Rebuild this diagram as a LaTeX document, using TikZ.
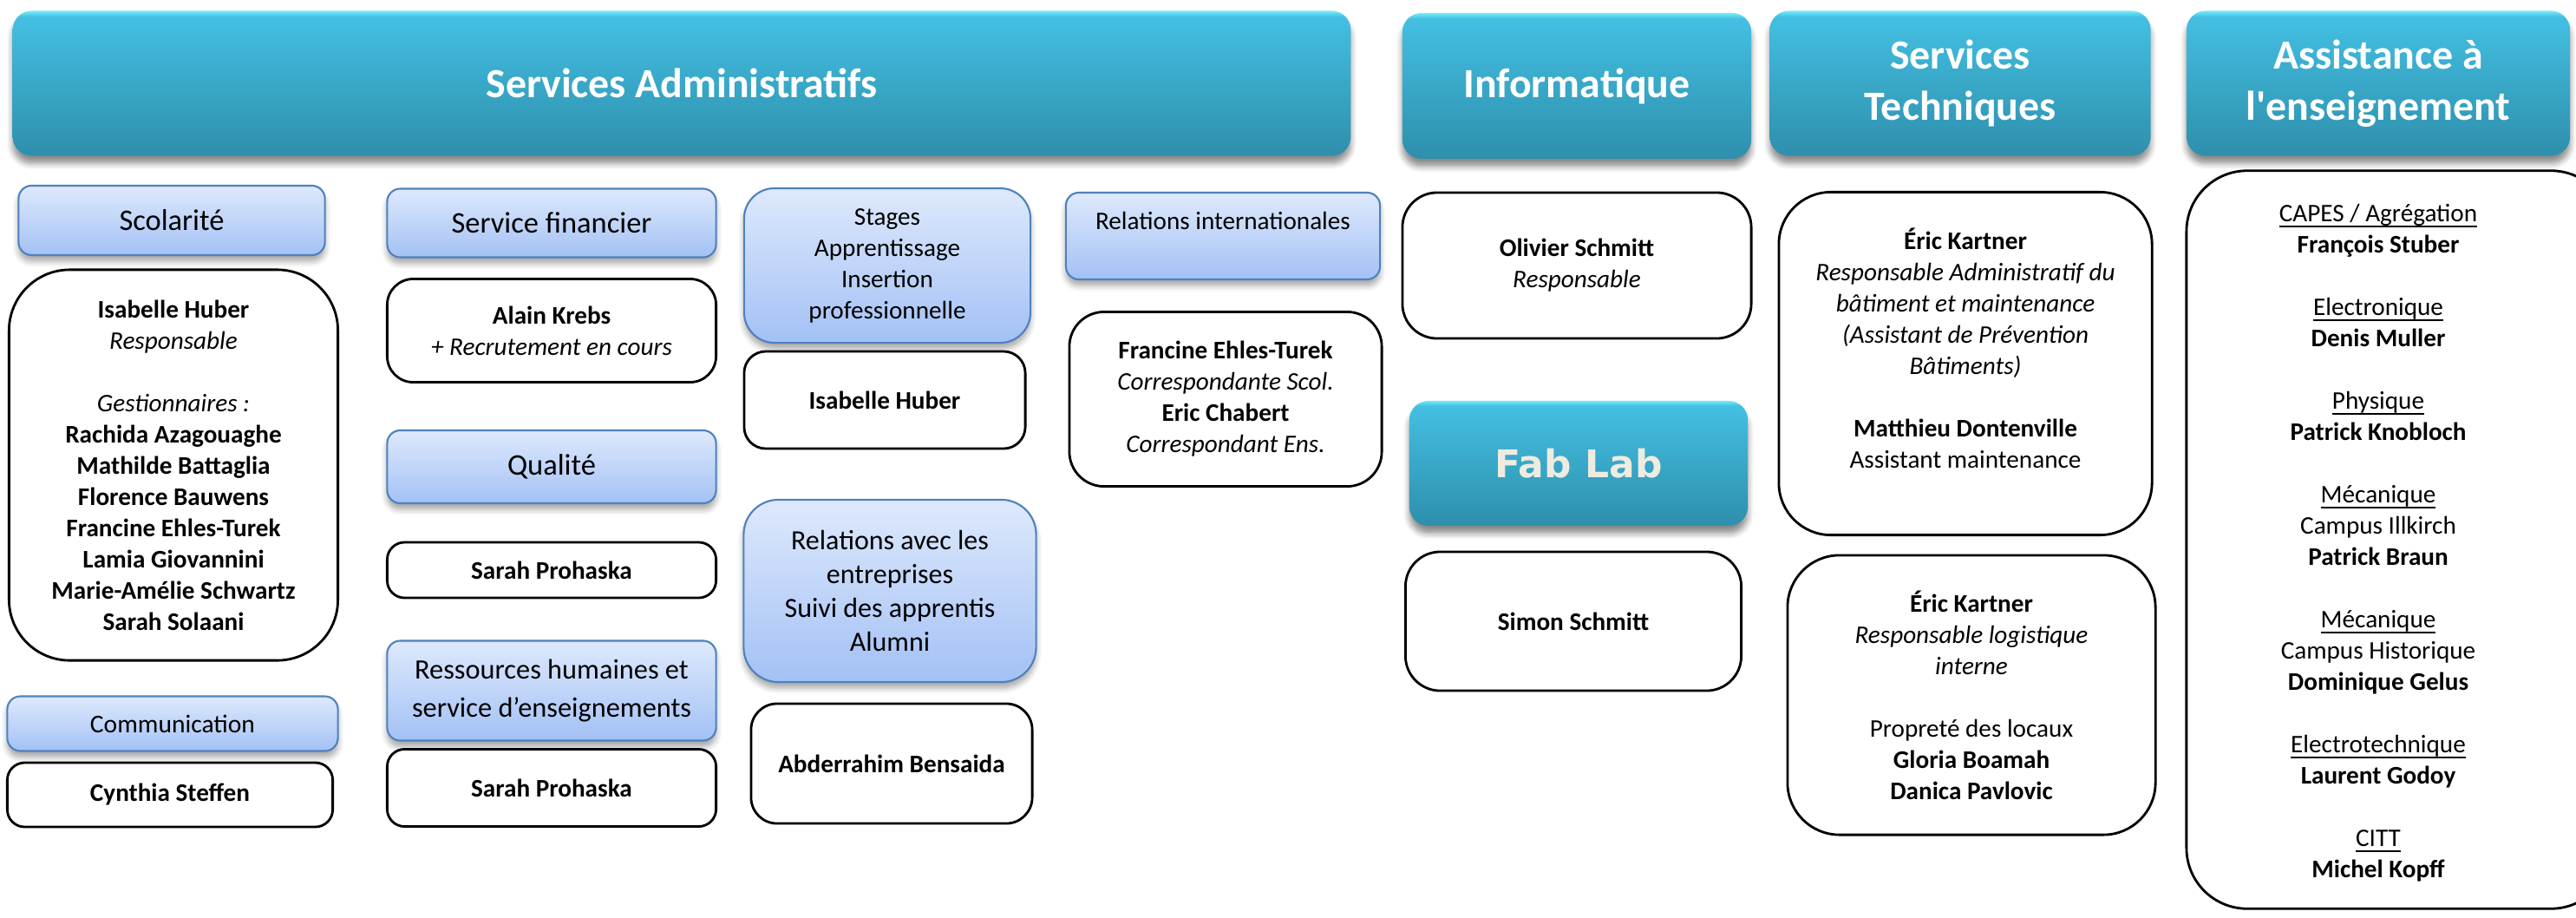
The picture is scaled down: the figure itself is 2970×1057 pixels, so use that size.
\documentclass[tikz,border=0pt]{standalone}
\usepackage{fontspec}
\setmainfont{Carlito}
\newfontfamily\fabfont{DejaVu Sans}
\usetikzlibrary{shadows.blur}

\definecolor{headtop}{HTML}{43BFE2}
\definecolor{headbot}{HTML}{2E8FAC}
\definecolor{headhi}{HTML}{74ECFA}
\definecolor{subtop}{HTML}{DEE9FC}
\definecolor{subbot}{HTML}{A3C1F5}
\definecolor{subline}{HTML}{4F81BD}
\definecolor{fabtext}{HTML}{EEEBE0}

\pgfdeclareverticalshading{headshade}{100bp}{color(0bp)=(headbot); color(25bp)=(headbot);
    color(73bp)=(headtop); color(75bp)=(headhi); color(100bp)=(headhi)}

% word style underline, close to the baseline
\newcommand\ulined[1]{\setbox0\hbox{#1}\rlap{\rule[-1.7pt]{\wd0}{0.45pt}}\box0}

\begin{document}
\begin{tikzpicture}[
        x=0.01cm, y=-0.01cm,
        head/.style={rounded corners=0.22cm, shading=headshade,
            text=white, align=center, font=\fontsize{13.6}{16.8}\selectfont\bfseries,
            blur shadow={shadow xshift=0pt, shadow yshift=-2.5pt, shadow blur steps=6, shadow opacity=45}},
        sub/.style={rounded corners=0.15cm, top color=subtop, bottom color=subbot,
            draw=subline, line width=0.6pt, align=center, font=\fontsize{9.8}{12}\selectfont,
            blur shadow={shadow xshift=0pt, shadow yshift=-2pt, shadow blur steps=5, shadow opacity=35}},
        pers/.style={rounded corners=0.3cm, draw=black, line width=0.8pt, fill=white,
            align=center, font=\fontsize{8.3}{10.24}\selectfont}
    ]
        \useasboundingbox (0,0) rectangle (2970,1057);
        \clip (0,0) rectangle (2970,1057);

        % Column headers
        \node[head, minimum width=15.42cm, minimum height=1.67cm] (admin) at (786,96) {Services Administratifs};
        \node[head, minimum width=4.02cm, minimum height=1.68cm] (info) at (1818,99) {Informatique};
        \node[head, minimum width=4.39cm, minimum height=1.67cm] (tech) at (2260,96) {Services\\Techniques};
        \node[head, minimum width=4.42cm, minimum height=1.67cm] (assist) at (2742,96) {Assistance à\\l\textquotesingle enseignement};
        \node[head, minimum width=3.90cm, minimum height=1.44cm, text=fabtext,
            font=\fontsize{12.5}{15}\selectfont\fabfont\bfseries] (fablab) at (1820,534) {Fab Lab};

        % Services administratifs
        \node[sub, minimum width=3.53cm, minimum height=0.80cm] (scol) at (198,254) {Scolarité};
        \node[pers, rounded corners=0.7cm, minimum width=3.79cm, minimum height=4.50cm] (scolp) at (200,536)
            {\textbf{Isabelle Huber}\\\textit{Responsable}\\[10.24pt]\textit{Gestionnaires :}\\
             \textbf{Rachida Azagouaghe}\\\textbf{Mathilde Battaglia}\\\textbf{Florence Bauwens}\\
             \textbf{Francine Ehles-Turek}\\\textbf{Lamia Giovannini}\\\textbf{Marie-Amélie Schwartz}\\
             \textbf{Sarah Solaani}};
        \node[sub, font=\fontsize{8.4}{10.24}\selectfont, minimum width=3.81cm, minimum height=0.63cm] (comm) at (199,834) {Communication};
        \node[pers, rounded corners=0.2cm, minimum width=3.75cm, minimum height=0.74cm] (steffen) at (196,916) {\textbf{Cynthia Steffen}};

        \node[sub, minimum width=3.79cm, minimum height=0.79cm] (fin) at (636,257) {Service financier};
        \node[pers, minimum width=3.79cm, minimum height=1.19cm] (krebs) at (636,381) {\textbf{Alain Krebs}\\\textit{+ Recrutement en cours}};
        \node[sub, minimum width=3.79cm, minimum height=0.84cm] (qual) at (636,538) {Qualité};
        \node[pers, rounded corners=0.2cm, minimum width=3.79cm, minimum height=0.64cm] (prohaskaq) at (636,657) {\textbf{Sarah Prohaska}};
        \node[sub, font=\fontsize{9.2}{12.5}\selectfont, minimum width=3.79cm, minimum height=1.15cm] (rh) at (636,796) {Ressources humaines et\\service d’enseignements};
        \node[pers, rounded corners=0.2cm, minimum width=3.79cm, minimum height=0.89cm] (prohaskarh) at (636,908) {\textbf{Sarah Prohaska}};

        \node[sub, rounded corners=0.35cm, font=\fontsize{8.3}{10.24}\selectfont, minimum width=3.30cm, minimum height=1.78cm] (stages) at (1023,306)
            {Stages\\Apprentissage\\Insertion\\professionnelle};
        \node[pers, rounded corners=0.25cm, minimum width=3.24cm, minimum height=1.12cm] (huber) at (1020,461) {\textbf{Isabelle Huber}};
        \node[sub, rounded corners=0.4cm, font=\fontsize{9.1}{11.1}\selectfont, minimum width=3.37cm, minimum height=2.10cm] (entr) at (1026,681)
            {Relations avec les\\entreprises\\Suivi des apprentis\\Alumni};
        \node[pers, minimum width=3.24cm, minimum height=1.38cm] (bensaida) at (1028,880) {\textbf{Abderrahim Bensaida}};

        \node[sub, font=\fontsize{8.3}{10.24}\selectfont, minimum width=3.62cm, minimum height=1.00cm] (inter) at (1410,272) {Relations internationales\\\mbox{}};
        \node[pers, rounded corners=0.4cm, minimum width=3.60cm, minimum height=2.01cm] (ehles) at (1413,460)
            {\textbf{Francine Ehles-Turek}\\\textit{Correspondante Scol.}\\\textbf{Eric Chabert}\\\textit{Correspondant Ens.}};

        % Informatique et Fab Lab
        \node[pers, rounded corners=0.4cm, minimum width=4.02cm, minimum height=1.68cm] (schmitt) at (1818,306) {\textbf{Olivier Schmitt}\\\textit{Responsable}};
        \node[pers, rounded corners=0.4cm, minimum width=3.87cm, minimum height=1.60cm] (simon) at (1814,716) {\textbf{Simon Schmitt}};

        % Services techniques
        \node[pers, rounded corners=0.6cm, minimum width=4.30cm, minimum height=3.95cm] (kartner) at (2266,419)
            {\textbf{Éric Kartner}\\\textit{Responsable Administratif du}\\\textit{bâtiment et maintenance}\\
             \textit{(Assistant de Prévention}\\\textit{Bâtiments)}\\[10.24pt]
             \textbf{Matthieu Dontenville}\\Assistant maintenance\\\mbox{}};
        \node[pers, rounded corners=0.6cm, minimum width=4.24cm, minimum height=3.22cm] (logistique) at (2273,801)
            {\textbf{Éric Kartner}\\\textit{Responsable logistique}\\\textit{interne}\\[10.24pt]
             Propreté des locaux\\\textbf{Gloria Boamah}\\\textbf{Danica Pavlovic}};

        % Assistance a l'enseignement
        \node[pers, rounded corners=0.7cm, minimum width=4.90cm, minimum height=8.50cm] (ensbox) at (2766,622) {};
        \node[align=center, font=\fontsize{8.3}{10.24}\selectfont] (ens) at (2742,626)
            {\ulined{CAPES / Agrégation}\\\textbf{François Stuber}\\[10.24pt]
             \ulined{Electronique}\\\textbf{Denis Muller}\\[10.24pt]
             \ulined{Physique}\\\textbf{Patrick Knobloch}\\[10.24pt]
             \ulined{Mécanique}\\Campus Illkirch\\\textbf{Patrick Braun}\\[10.24pt]
             \ulined{Mécanique}\\Campus Historique\\\textbf{Dominique Gelus}\\[10.24pt]
             \ulined{Electrotechnique}\\\textbf{Laurent Godoy}\\[10.24pt]
             \ulined{CITT}\\\textbf{Michel Kopff}};
    \end{tikzpicture}
\end{document}
